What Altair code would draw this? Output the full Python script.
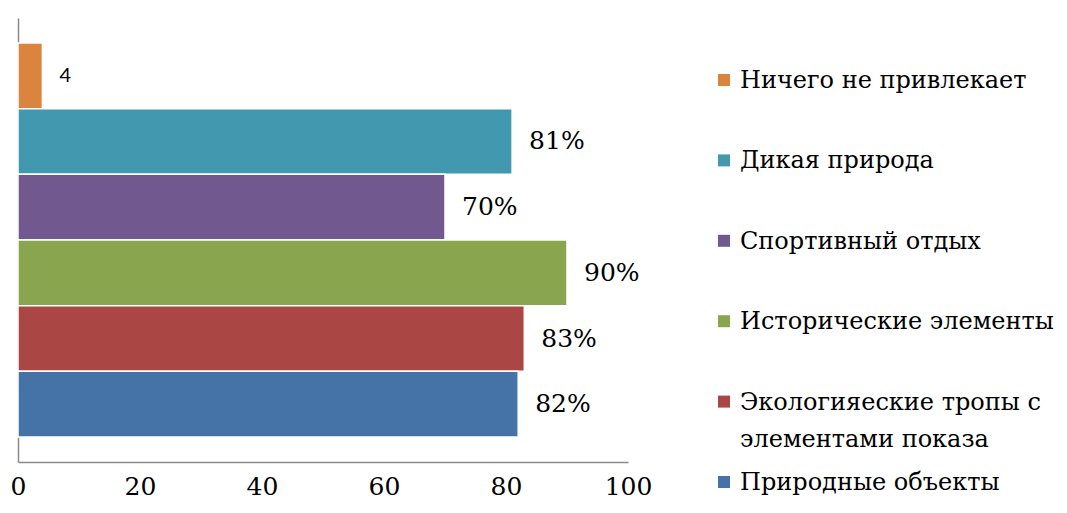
import altair as alt
import pandas as pd

categories = ["Ничего не привлекает", "Дикая природа", "Спортивный отдых",
              "Исторические элементы", "Экологияеские тропы с элементами показа",
              "Природные объекты"]
legend_labels = ["Ничего не привлекает", "Дикая природа", "Спортивный отдых",
                 "Исторические элементы", "Экологияеские тропы с\nэлементами показа",
                 "Природные объекты"]
values = [4, 81, 70, 90, 83, 82]
value_labels = ["4", "81%", "70%", "90%", "83%", "82%"]
colors = ["#DB843D", "#4198AF", "#71588F", "#89A54E", "#AA4643", "#4572A7"]
x_ticks = [0, 20, 40, 60, 80, 100]

df = pd.DataFrame({"category": categories, "value": values,
                   "label": value_labels, "legend": legend_labels})

SERIF = "DejaVu Serif"
color_scale = alt.Scale(domain=categories, range=colors)

y_enc = alt.Y("category:N", sort=categories, title=None,
              scale=alt.Scale(paddingInner=0, paddingOuter=0.38),
              axis=alt.Axis(labels=False, ticks=False, domainColor="#8a8a8a",
                            domainWidth=1.5))
x_enc = alt.X("value:Q", title=None, scale=alt.Scale(domain=[0, 100]),
              axis=alt.Axis(values=x_ticks, ticks=False, grid=False,
                            labelFont=SERIF, labelFontSize=25, labelColor="black",
                            labelPadding=12, labelFlush=False,
                            domainColor="#8a8a8a", domainWidth=1.5))

bars = alt.Chart(df).mark_bar(stroke="white", strokeWidth=1.5).encode(
    x=x_enc, y=y_enc,
    color=alt.Color("category:N", scale=color_scale, legend=None))

pct = alt.Chart(df).transform_filter("indexof(datum.label, '%') >= 0").mark_text(
    align="left", baseline="middle", dx=17, font=SERIF, fontSize=25, color="black"
).encode(x="value:Q", y=alt.Y("category:N", sort=categories), text="label:N")

plain = alt.Chart(df).transform_filter("indexof(datum.label, '%') < 0").mark_text(
    align="left", baseline="middle", dx=17, font="Lato", fontSize=20, color="black"
).encode(x="value:Q", y=alt.Y("category:N", sort=categories), text="label:N")

main = alt.layer(bars, pct, plain).properties(width=610, height=444)

leg_y = alt.Y("category:N", sort=categories, axis=None,
              scale=alt.Scale(type="point", range=[62, 464], padding=0))

squares = alt.Chart(df).mark_square(size=144, opacity=1).encode(
    x=alt.value(7), y=leg_y,
    color=alt.Color("category:N", scale=color_scale, legend=None))
leg_text = alt.Chart(df).mark_text(
    align="left", baseline="alphabetic", dy=8, lineBreak="\n", lineHeight=37,
    font=SERIF, fontSize=24, color="black"
).encode(x=alt.value(23), y=leg_y, text="legend:N")

legend = alt.layer(squares, leg_text).properties(width=338, height=444)

chart = alt.hconcat(main, legend, spacing=65).properties(
    padding={"left": 2, "top": 10, "right": 0, "bottom": 0}
).configure_view(stroke=None)

chart.save("out.html", embed_options={"renderer": "svg", "actions": False})
